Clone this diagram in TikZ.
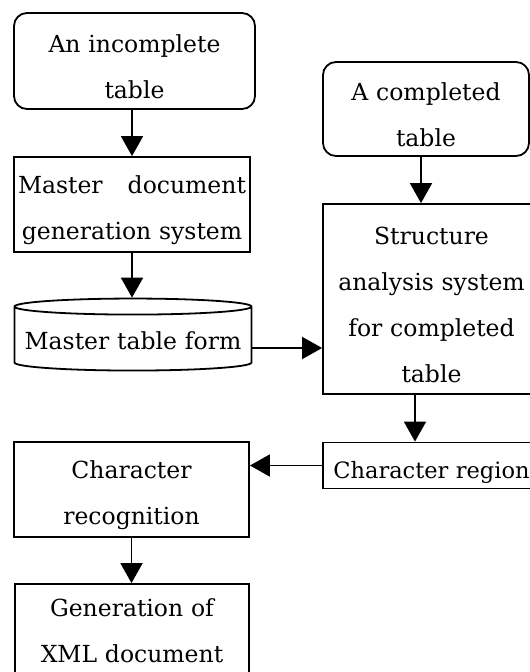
\documentclass[tikz,border=0pt]{standalone}
\usepackage{fontspec}
\setmainfont{DejaVu Serif}
\usetikzlibrary{arrows.meta,shapes.geometric}
\tikzset{
  boxText/.style={font=\fontsize{23.5}{46}\selectfont, align=center, inner sep=0pt,
    minimum width=#1, text width=#1-8pt, execute at begin node={\rule{0pt}{30pt}}},
  procBox/.style={boxText=#1, rectangle, draw, line width=1.8pt},
  roundBox/.style={procBox=#1, rounded corners=13pt},
  dbForm/.style={boxText=#1, cylinder, shape border rotate=90, aspect=0.07, draw, line width=1.8pt,
    execute at begin node={}, execute at end node={\rule[-10pt]{0pt}{0pt}}},
  flowArr/.style={line width=1.8pt, -{Triangle[width=22pt,length=20pt]}}
}

\begin{document}
\begin{tikzpicture}[x=1pt,y=1pt]
\useasboundingbox (0,0) rectangle (530,-672);
\clip (0,0) rectangle (530,-672);

% left column
\node[roundBox=241pt, minimum height=96pt] (incTab) at (134.5,-61) {An incomplete\\table};
\node[procBox=236pt, minimum height=95pt] (masGen) at (132,-204.5) {Master\hfill document\\generation system};
\node[dbForm=237pt, minimum height=72pt] (masForm) at (133,-339) {Master table form};
\node[procBox=235pt, minimum height=95pt] (chrRec) at (131.5,-489.5) {Character\\recognition};
\node[procBox=234pt, minimum height=95pt, execute at end node={\rule[-14pt]{0pt}{0pt}}] (xmlGen) at (132,-631.5) {Generation of\\XML document};

% right column
\node[roundBox=206pt, minimum height=94pt] (comTab) at (426,-109) {A completed\\table};
\node[procBox=217pt, minimum height=190pt] (strAna) at (431.5,-299) {Structure\\analysis system\\for completed\\table};
\node[procBox=217pt, minimum height=46pt, font=\fontsize{22.5}{46}\selectfont,
  execute at begin node={\rule{0pt}{24pt}}] (chrReg) at (431.5,-465.5) {Character region};

% arrows
\draw[flowArr] (incTab.south -| masGen.north) -- (masGen.north);
\draw[flowArr] (masGen.south) -- (masGen.south |- masForm.north);
\draw[flowArr] ([yshift=-9pt]masForm.east) -- ([yshift=-9pt]masForm.east -| strAna.west);
\draw[flowArr] ([xshift=-5pt]comTab.south) -- ([xshift=-5pt]comTab.south |- strAna.north);
\draw[flowArr] ([xshift=-16.5pt]strAna.south) -- ([xshift=-16.5pt]strAna.south |- chrReg.north);
\draw[flowArr] (chrReg.west) -- (chrReg.west -| chrRec.east);
\draw[flowArr] (chrRec.south) -- (chrRec.south |- xmlGen.north);
\end{tikzpicture}
\end{document}
